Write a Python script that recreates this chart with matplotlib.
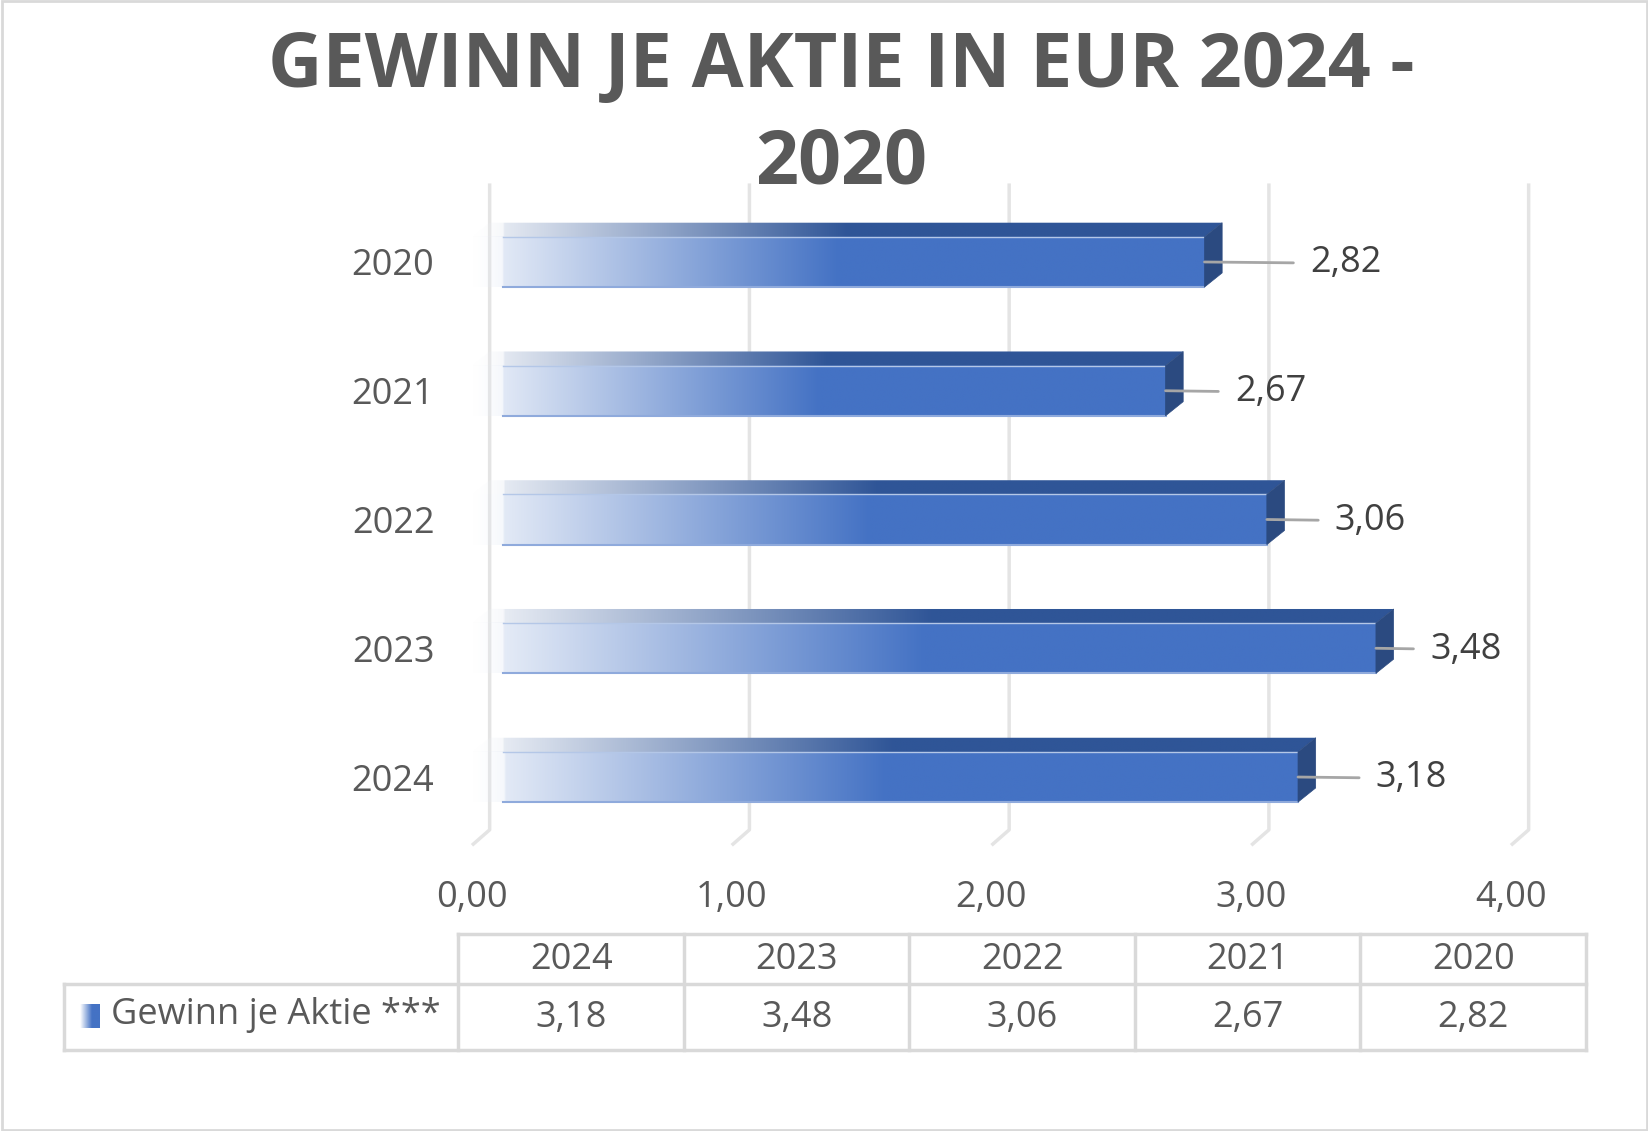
import numpy as np
import matplotlib
matplotlib.use("Agg")
import matplotlib.pyplot as plt
from matplotlib.patches import Polygon, Rectangle
from matplotlib.colors import to_rgb

# data
years = ["2024", "2023", "2022", "2021", "2020"]
eps = [3.18, 3.48, 3.06, 2.67, 2.82]
series_name = "Gewinn je Aktie ***"
title = "GEWINN JE AKTIE IN EUR 2024 -\n2020"
xticks = [0, 1, 2, 3, 4]

# label gaps (points) from bar end, per bar
label_gap = [56, 39, 49, 50, 76]

plt.rcParams['font.family'] = ['Open Sans', 'DejaVu Sans']

W, H = 1649, 1131
fig = plt.figure(figsize=(W / 100, H / 100), dpi=100)

def fx(px):
    return px / W

def fy(py):
    return 1 - py / H

# main axes: x 0..4 -> px 472..1511, y -0.5..4.5 -> px 841..198
ax = fig.add_axes([fx(472), fy(841.4), fx(1511) - fx(472), fy(197.6) - fy(841.4)])
ax.set_xlim(0, 4)
ax.set_ylim(-0.5, 4.5)
for s in ax.spines.values():
    s.set_visible(False)

blue = np.array(to_rgb("#4472C4"))
dark = np.array(to_rgb("#2F5597"))
side = "#2B4A80"
white = np.ones(3)
txt = "#595959"
fs = 26

h = 0.39     # bar height
dx = 0.068   # depth in x
dy = 0.11    # depth in y

# back gridlines with diagonal floor part
for t in xticks:
    ax.plot([t + dx, t + dx, t], [4.61, -0.41, -0.53], color="#e4e4e4",
            lw=2.5, clip_on=False, zorder=1, solid_capstyle="butt")

def grad(v, col, m0):
    n = 400
    t = np.linspace(0, 1, n)
    s = np.clip(t / 0.5, 0, 1)
    m = m0 + (1 - m0) * s
    rgb = white[None, :] * (1 - m[:, None]) + col[None, :] * m[:, None]
    xd = t * v
    a = np.where(xd < 0.12, 0.35 * xd / 0.12, 1.0)
    img = np.concatenate([rgb, a[:, None]], axis=1)[None, :, :]
    return img

for i, (yr, v) in enumerate(zip(years, eps)):
    y0, y1 = i - h / 2, i + h / 2
    # front face
    ax.imshow(grad(v, blue, 0.08), extent=[0, v, y0, y1], aspect="auto",
              interpolation="bilinear", zorder=3)
    ax.plot([0.12, v], [y0, y0], color="#8FAADC", lw=1.5, zorder=4)
    ax.plot([0.12, v], [y1, y1], color="#B4C7E7", lw=1, zorder=4)
    # top face
    top = Polygon([(0, y1), (v, y1), (v + dx, y1 + dy), (dx, y1 + dy)],
                  closed=True, facecolor="none", edgecolor="none")
    ax.add_patch(top)
    im = ax.imshow(grad(v + dx, dark, 0.05), extent=[0, v + dx, y1, y1 + dy],
                   aspect="auto", interpolation="bilinear", zorder=3)
    im.set_clip_path(top)
    # side face
    ax.add_patch(Polygon([(v, y0), (v + dx, y0 + dy), (v + dx, y1 + dy), (v, y1)],
                         closed=True, facecolor=side, edgecolor=side, lw=0.5, zorder=4))
    # data label with leader line
    lab = f"{v:.2f}".replace(".", ",")
    ax.annotate(lab, xy=(v, i), xytext=(label_gap[i], -1), textcoords="offset points",
                ha="left", va="center", fontsize=fs, color="#404040",
                arrowprops=dict(arrowstyle="-", color="#A6A6A6", lw=2,
                                shrinkA=10, shrinkB=0), zorder=5)

ax.set_yticks(range(len(years)), years)
ax.set_xticks(xticks, [f"{t:.2f}".replace(".", ",") for t in xticks])
ax.tick_params(axis="both", length=0, labelsize=fs, labelcolor=txt)
ax.tick_params(axis="y", pad=27)
ax.tick_params(axis="x", pad=28)
ax.set_facecolor("none")

# title
fig.text(fx(841), fy(116), title, ha="center", va="center", fontsize=54.3,
         fontweight="bold", color=txt, linespacing=1.38)

# data table
lc = "#D9D9D9"
tl, tr = 458.5, 1586
r0, r1, r2 = 934, 984, 1050
hl = 64
cw = (tr - tl) / len(years)
def fline(xs, ys):
    fig.add_artist(plt.Line2D([fx(x) for x in xs], [fy(y) for y in ys],
                              color=lc, lw=2.5, solid_capstyle="projecting"))
fline([tl, tr], [r0, r0])
fline([hl, tr], [r1, r1])
fline([hl, tr], [r2, r2])
fline([hl, hl], [r1, r2])
for k in range(len(years) + 1):
    fline([tl + k * cw, tl + k * cw], [r0, r2])
for k, (yr, v) in enumerate(zip(years, eps)):
    cx = tl + (k + 0.5) * cw
    fig.text(fx(cx), fy((r0 + r1) / 2 + 1), yr, ha="center", va="center",
             fontsize=fs, color=txt)
    fig.text(fx(cx), fy((r1 + r2) / 2 + 1), f"{v:.2f}".replace(".", ","),
             ha="center", va="center", fontsize=fs, color=txt)
fig.text(fx(111), fy((r1 + r2) / 2 - 2), series_name, ha="left", va="center",
         fontsize=fs, color=txt)

# legend key
kax = fig.add_axes([fx(80), fy(1028), fx(100) - fx(80), fy(1004) - fy(1028)])
kt = np.linspace(0, 1, 50)
km = np.clip(kt / 0.6, 0, 1)
krgb = white[None, :] * (1 - km[:, None]) + blue[None, :] * km[:, None]
kax.imshow(krgb[None, :, :], aspect="auto", interpolation="bilinear")
kax.axis("off")

# outer border
fig.add_artist(Rectangle((0.001, 0.001), 0.998, 0.998, transform=fig.transFigure,
                         fill=False, edgecolor="#D9D9D9", lw=2))

fig.savefig("out.png", dpi=100)
